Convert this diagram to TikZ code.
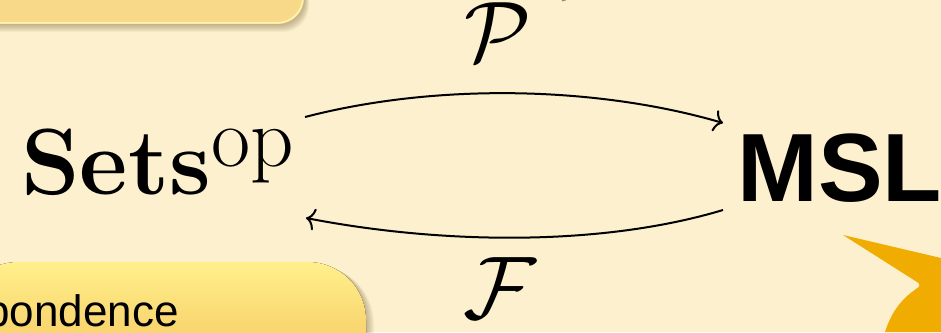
\documentclass[tikz,border=0pt]{standalone}
\usepackage{fontspec}
\usepackage{graphicx}
\newfontfamily\helv{Liberation Sans}
\usetikzlibrary{arrows.meta,calc}
\definecolor{bg}{HTML}{FDF0CE}
\definecolor{boxA}{HTML}{F8D98A}
\definecolor{boxArim}{HTML}{FFF4B0}
\definecolor{boxBtop}{HTML}{FFF08C}
\definecolor{boxBmid}{HTML}{F9D670}
\definecolor{boxBbot}{HTML}{F8CF62}
\definecolor{shadowc}{HTML}{6E5A30}
\definecolor{starc}{HTML}{F0AC00}
\tikzset{
  mapline/.style={line width=2pt, -{Computer Modern Rightarrow[length=9pt,width=22pt]}},
  labelnode/.style={inner sep=0pt},
}
\begin{document}
\begin{tikzpicture}[x=1pt,y=1pt]
\useasboundingbox (0,0) rectangle (941,332);
\fill[bg] (0,0) rectangle (941,332);
\begin{scope}
\clip (0,0) rectangle (941,332);
% top-left box with soft shadow
\foreach \i in {1,...,8}{
  \fill[shadowc, opacity=0.06, rounded corners=26pt]
    ($(-40,308)+(0.6*\i,-\i)$) rectangle ($(304,370)+(0.6*\i,-\i)$);
}
\fill[boxA, rounded corners=26pt] (-40,308) rectangle (304,370);
\draw[boxArim, line width=1.5pt, rounded corners=26pt] (-40,309) -- (303,309) -- (303,370);
% bottom-left box with soft shadow
\foreach \i in {1,...,8}{
  \fill[shadowc, opacity=0.05, rounded corners=58pt]
    ($(-40,-60)+(\i,-0.5*\i)$) rectangle ($(366,70)+(\i,-0.5*\i)$);
}
\fill[rounded corners=58pt, top color=boxBtop, bottom color=boxBbot, middle color=boxBmid]
  (-40,-60) rectangle (366,70);
% orange star
\fill[starc] (843,97) -- (941,74) -- (941,0) -- (885,0)
  .. controls (892,22) and (903,34) .. (916,43)
  .. controls (921,46) and (920,48) .. (917,50) -- cycle;
% tiny mark at top
\draw[gray, line width=1pt] (562,331) -- (568,333);
\end{scope}
% text in the bottom box
\node[labelnode, anchor=base east] (corr) at (179,6) {\helv\fontsize{44}{46}\selectfont pondence};
% objects
\node[labelnode, anchor=base west] (sets) at (21,137) {\fontsize{94}{96}\selectfont\bfseries Sets};
\node[labelnode, anchor=base west] (op) at (211,165) {\fontsize{85}{87}\selectfont op};
\node[labelnode, anchor=base west] (msl) at (737,130) {\helv\bfseries\fontsize{97}{99}\selectfont MSL};
% functor labels
\node[labelnode, anchor=base] (P) at (498,270) {\scalebox{8.6}{$\mathcal{P}$}};
\node[labelnode, anchor=base] (F) at (500,14) {\scalebox{8.9}{$\mathcal{F}$}};
% arrows
\coordinate (pstart) at (305,215);
\coordinate (pend) at (723,209);
\coordinate (fstart) at (723,122);
\coordinate (fend) at (306,114);
\draw[mapline] (pstart) .. controls (440,250) and (600,245) .. (pend);
\draw[mapline] (fstart) .. controls (600,85) and (440,88) .. (fend);
\end{tikzpicture}
\end{document}
